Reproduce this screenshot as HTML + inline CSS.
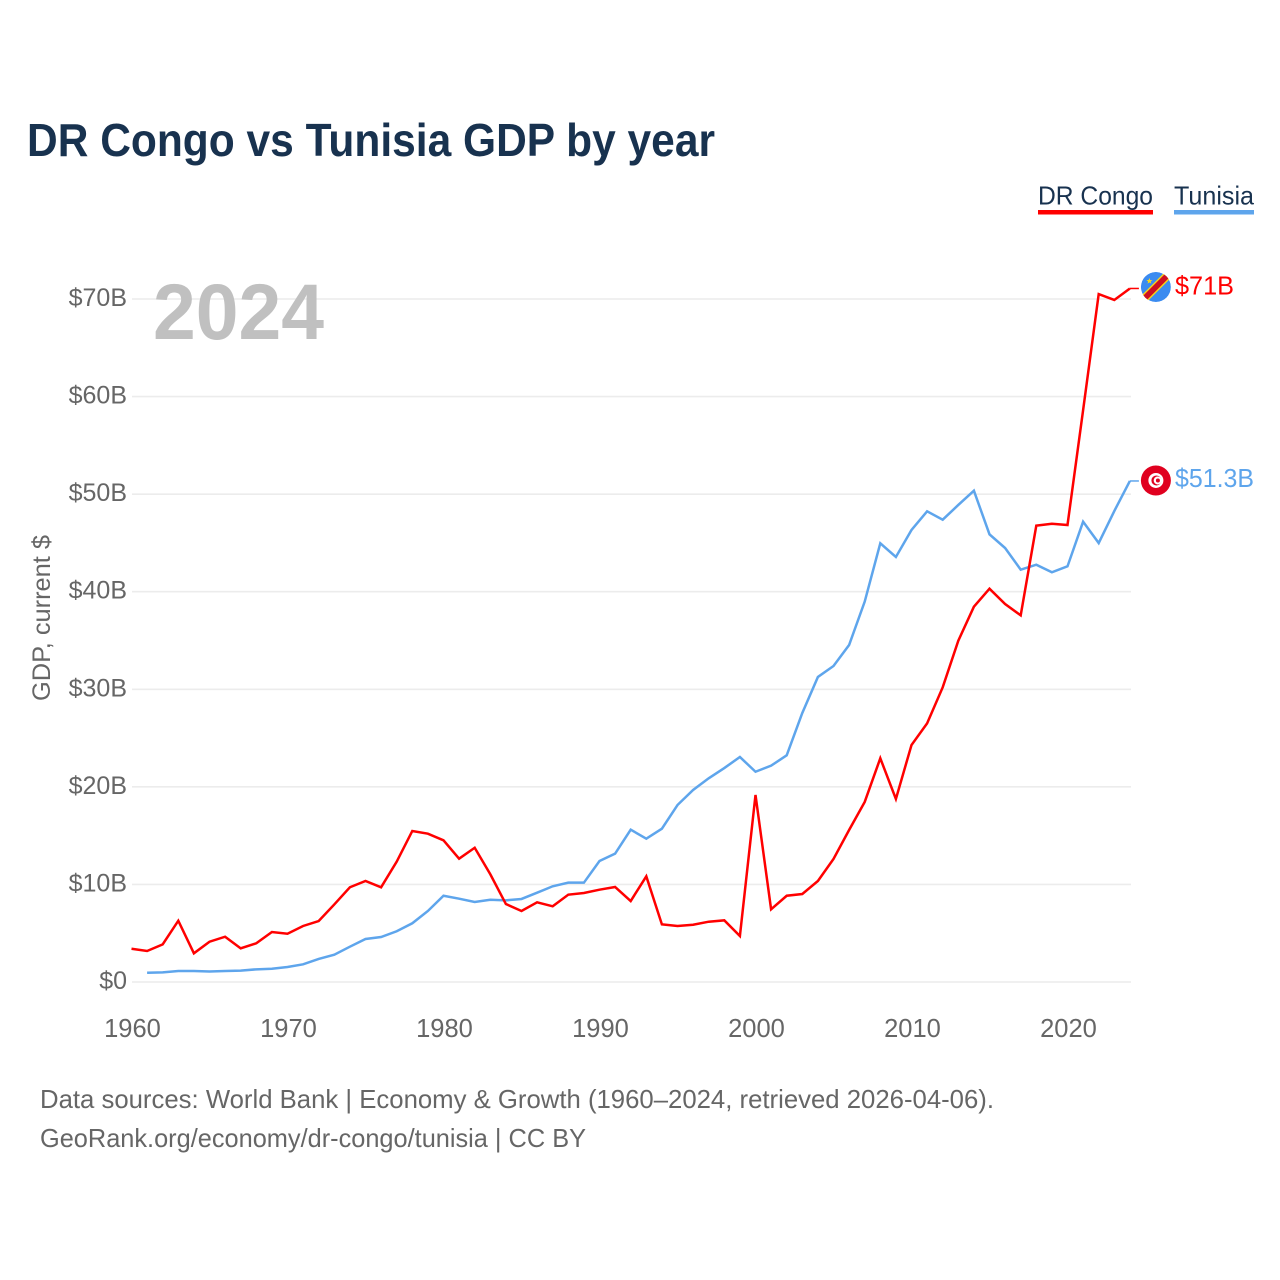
<!DOCTYPE html>
<html lang="en">
<head>
<meta charset="utf-8">
<title>DR Congo vs Tunisia GDP by year</title>
<style>
html,body{margin:0;padding:0;background:#fff;width:1280px;height:1280px;overflow:hidden}
svg{display:block}
text{font-family:"Liberation Sans",sans-serif}
</style>
</head>
<body>
<svg id="chart" xmlns="http://www.w3.org/2000/svg" width="1280" height="1280" viewBox="0 0 1280 1280">
  <defs>
    <clipPath id="flag-clip"><circle cx="0" cy="0" r="15"></circle></clipPath>
  </defs>
  <rect width="1280" height="1280" fill="#fff"></rect>
  <text x="27" y="156" font-size="46" font-weight="700" fill="#18324f" textLength="688" lengthAdjust="spacingAndGlyphs">DR Congo vs Tunisia GDP by year</text>
  <g>
    <g>
      <text x="1038" y="204.5" font-size="26" fill="#18324f" textLength="115" lengthAdjust="spacingAndGlyphs">DR Congo</text>
      <rect x="1038" y="210" width="115" height="4.5" fill="#ff0000"></rect>
    </g>
    <g>
      <text x="1174" y="204.5" font-size="26" fill="#18324f" textLength="80" lengthAdjust="spacingAndGlyphs">Tunisia</text>
      <rect x="1174" y="210" width="80" height="4.5" fill="#5ea5ec"></rect>
    </g>
  </g>
  <g id="grid"></g>
  <g id="y-ticks"></g>
  <g id="x-ticks"></g>
  <text x="0" y="0" transform="translate(50 618) rotate(-90)" text-anchor="middle" font-size="25" fill="#666" textLength="166" lengthAdjust="spacingAndGlyphs">GDP, current $</text>
  <text x="153" y="339" font-size="79" font-weight="700" fill="#c0c0c0" textLength="171" lengthAdjust="spacingAndGlyphs">2024</text>
  <g id="series"></g>
  <g id="flag-cd" clip-path="url(#flag-clip)">
    <circle cx="0" cy="0" r="15" fill="#3b8bf0"></circle>
    <polygon points="-20,14 14,-20 20,-14 -14,20" fill="#f7d618"></polygon>
    <polygon points="-20,16 16,-20 20,-16 -16,20" fill="#ce1021"></polygon>
    <polygon points="-6.5,-9 -5.7,-6.9 -3.5,-6.9 -5.2,-5.5 -4.6,-3.3 -6.5,-4.6 -8.4,-3.3 -7.8,-5.5 -9.5,-6.9 -7.3,-6.9" fill="#f7d618"></polygon>
  </g>
  <g id="flag-tn">
    <circle cx="0" cy="0" r="15" fill="#e0001f"></circle>
    <circle cx="0" cy="0" r="7.5" fill="#fff"></circle>
    <circle cx="0.5" cy="0" r="5" fill="#e0001f"></circle>
    <circle cx="1.8" cy="0" r="4" fill="#fff"></circle>
    <circle cx="2" cy="0" r="2" fill="#e0001f"></circle>
  </g>
  <g id="end-labels"></g>
  <g>
    <text x="40" y="1108" font-size="26" fill="#666" textLength="954" lengthAdjust="spacingAndGlyphs">Data sources: World Bank | Economy &amp; Growth (1960–2024, retrieved 2026-04-06).</text>
    <text x="40" y="1147" font-size="26" fill="#666" textLength="546" lengthAdjust="spacingAndGlyphs">GeoRank.org/economy/dr-congo/tunisia | CC BY</text>
  </g>
</svg>
<script>
const firstYear = 1960;
const yTickValues = [0, 10, 20, 30, 40, 50, 60, 70];
const yTickLabels = ["$0", "$10B", "$20B", "$30B", "$40B", "$50B", "$60B", "$70B"];
const xTickValues = [1960, 1970, 1980, 1990, 2000, 2010, 2020];
const xTickLabels = ["1960", "1970", "1980", "1990", "2000", "2010", "2020"];
const drCongoValues = [3.41,3.18,3.86,6.28,2.94,4.13,4.64,3.45,3.97,5.12,4.95,5.74,6.25,7.95,9.71,10.35,9.71,12.33,15.48,15.20,14.52,12.64,13.76,11.04,7.99,7.28,8.17,7.76,8.95,9.12,9.46,9.74,8.30,10.83,5.91,5.74,5.87,6.18,6.32,4.71,19.17,7.45,8.84,9.02,10.35,12.61,15.58,18.45,22.93,18.76,24.29,26.51,30.20,34.98,38.46,40.31,38.74,37.58,46.77,46.97,46.84,58.6,70.5,69.9,71.08];
const tunisiaValues = [null,0.95,0.99,1.13,1.13,1.08,1.13,1.16,1.30,1.36,1.54,1.81,2.36,2.80,3.62,4.41,4.61,5.20,6.02,7.28,8.84,8.54,8.20,8.43,8.37,8.51,9.15,9.81,10.18,10.18,12.40,13.15,15.61,14.69,15.71,18.14,19.68,20.88,21.93,23.06,21.55,22.17,23.23,27.57,31.26,32.39,34.54,38.98,44.96,43.56,46.33,48.24,47.38,48.89,50.35,45.88,44.48,42.26,42.77,41.99,42.60,47.18,44.99,48.27,51.35];
const drCongoEndLabel = "$71B";
const tunisiaEndLabel = "$51.3B";

const NS = "http://www.w3.org/2000/svg";
function xScale(year) { return 131.5 + (year - 1960) * 15.6; }
function yScale(v) { return 982 - v * (982 - 299) / 70; }
function make(tag, attrs, parent) {
  const el = document.createElementNS(NS, tag);
  for (const k in attrs) el.setAttribute(k, attrs[k]);
  parent.appendChild(el);
  return el;
}

const gridGroup = document.getElementById("grid");
const yGroup = document.getElementById("y-ticks");
yTickValues.forEach(function (v, i) {
  const y = yScale(v);
  const line = make("line", {x1: 132, x2: 1131, y1: y, y2: y, stroke: "#ececec", "stroke-width": 1.6}, gridGroup);
  
  
  const t = make("text", {x: 127, y: y + 7, "text-anchor": "end", "font-size": 25, fill: "#666"}, yGroup);
  
  
  t.textContent = yTickLabels[i];
});

const xGroup = document.getElementById("x-ticks");
xTickValues.forEach(function (v, i) {
  const t = make("text", {x: xScale(v) + 1, y: 1037, "text-anchor": "middle", "font-size": 25.5, fill: "#666"}, xGroup);
  
  
  t.textContent = xTickLabels[i];
});

function linePoints(values) {
  const pts = [];
  values.forEach(function (v, i) {
    if (v !== null) pts.push(xScale(firstYear + i).toFixed(2) + "," + yScale(v).toFixed(2));
  });
  return pts.join(" ");
}

const seriesGroup = document.getElementById("series");
const tunisiaLine = make("polyline", {points: linePoints(tunisiaValues), fill: "none", stroke: "#5ea5ec", "stroke-width": 2.5, "stroke-linejoin": "miter"}, seriesGroup);


const drCongoLine = make("polyline", {points: linePoints(drCongoValues), fill: "none", stroke: "#ff0000", "stroke-width": 2.5, "stroke-linejoin": "miter"}, seriesGroup);



const lastYear = firstYear + drCongoValues.length - 1;
const endX = xScale(lastYear);
const drEndY = yScale(drCongoValues[drCongoValues.length - 1]);
const tnEndY = yScale(tunisiaValues[tunisiaValues.length - 1]);

const drConnector = make("line", {x1: endX, x2: endX + 9, y1: drEndY, y2: drEndY, stroke: "#ff0000", "stroke-width": 1.5}, seriesGroup);


const tnConnector = make("line", {x1: endX, x2: endX + 9, y1: tnEndY, y2: tnEndY, stroke: "#5ea5ec", "stroke-width": 1.5}, seriesGroup);



document.getElementById("flag-cd").setAttribute("transform", "translate(" + (endX + 26) + " " + (drEndY - 1.5) + ")");
document.getElementById("flag-tn").setAttribute("transform", "translate(" + (endX + 26) + " " + (tnEndY - 0.5) + ")");

const labelGroup = document.getElementById("end-labels");
const drLabel = make("text", {x: 1175, y: drEndY + 6, "font-size": 26, fill: "#ff0000", textLength: 59, lengthAdjust: "spacingAndGlyphs"}, labelGroup);


drLabel.textContent = drCongoEndLabel;
const tnLabel = make("text", {x: 1175, y: tnEndY + 6, "font-size": 26, fill: "#5ea5ec", textLength: 79, lengthAdjust: "spacingAndGlyphs"}, labelGroup);


tnLabel.textContent = tunisiaEndLabel;
</script>
</body>
</html>
